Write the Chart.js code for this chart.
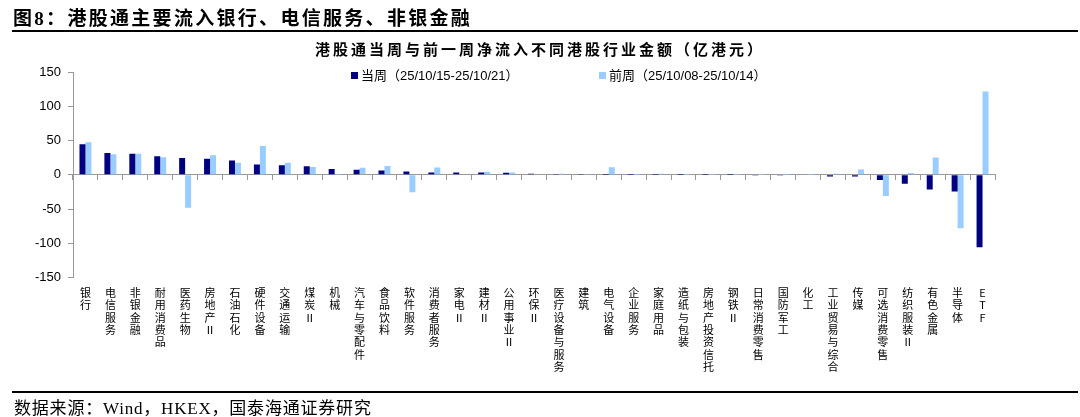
<!DOCTYPE html>
<html>
<head>
<meta charset="utf-8">
<script src="https://cdn.jsdelivr.net/npm/chart.js@4.4.1/dist/chart.umd.min.js"></script>
<style>
html,body{margin:0;padding:0;background:#fff;width:1080px;height:417px;overflow:hidden;}
#wrap{position:relative;width:1080px;height:417px;}
#c{position:absolute;left:0;top:0;}
.t{position:absolute;white-space:nowrap;color:#000;}
.sq{display:inline-block;width:7px;height:7px;margin-right:3px;vertical-align:1px;}
</style>
</head>
<body>
<div id="wrap">
<canvas id="c" width="1080" height="417"></canvas>
<div class="t" style="left:13px;top:3px;font:bold 19px 'Liberation Serif','Noto Sans CJK SC';letter-spacing:2.3px;">图8：港股通主要流入银行、电信服务、非银金融</div>
<div style="position:absolute;left:12px;top:30px;width:1066px;height:2px;background:#000;"></div>
<div class="t" id="ctitle" style="left:0;width:1080px;text-align:center;top:38px;font:bold 15px 'Noto Sans CJK SC';letter-spacing:3px;">港股通当周与前一周净流入不同港股行业金额（亿港元）</div>
<div class="t" id="leg1" style="left:351px;top:65px;font:13px 'Liberation Sans','Noto Sans CJK SC';"></div>
<div class="t" id="leg2" style="left:599px;top:65px;font:13px 'Liberation Sans','Noto Sans CJK SC';"></div>
<div style="position:absolute;left:12px;top:391px;width:1066px;height:2px;background:#000;"></div>
<div class="t" style="left:14px;top:394px;font:17px 'Liberation Serif','Noto Sans CJK SC';letter-spacing:0.8px;">数据来源：Wind，HKEX，国泰海通证券研究</div>
</div>
<script>
const categories = ['银行','电信服务','非银金融','耐用消费品','医药生物','房地产Ⅱ','石油石化','硬件设备','交通运输','煤炭Ⅱ','机械','汽车与零配件','食品饮料','软件服务','消费者服务','家电Ⅱ','建材Ⅱ','公用事业Ⅱ','环保Ⅱ','医疗设备与服务','建筑','电气设备','企业服务','家庭用品','造纸与包装','房地产投资信托','钢铁Ⅱ','日常消费零售','国防军工','化工','工业贸易与综合','传媒','可选消费零售','纺织服装Ⅱ','有色金属','半导体','ETF'];
const currentWeek = [44.7,32,30.6,27,24.7,23.3,20.9,15,14,12.6,8.7,7.3,6.3,4.9,3.6,3.5,3.4,3.1,1.5,0.5,0.5,0.3,0.3,0.2,0.1,0.1,0.1,-0.1,-0.1,-0.6,-2.5,-2.4,-7.6,-13.1,-21.5,-24.3,-105.7];
const previousWeek = [47.5,30,30.6,25.7,-48,28.6,17.5,42.2,17.5,11.6,0.3,10.2,13,-25.5,10.9,0,4.4,3.4,1,1.5,0.4,11.2,0.3,1.5,0.2,0.2,0.3,0.2,0.1,0.3,1.5,7.9,-31,2.6,25.2,-78,121.7];
const yTicks = [-150,-100,-50,0,50,100,150];
const seriesNames = ['当周（25/10/15-25/10/21）','前周（25/10/08-25/10/14）'];
const seriesColors = ['#000080','#99CCFF'];

document.getElementById('leg1').innerHTML = '<span class="sq" style="background:'+seriesColors[0]+'"></span>'+seriesNames[0];
document.getElementById('leg2').innerHTML = '<span class="sq" style="background:'+seriesColors[1]+'"></span>'+seriesNames[1];

const ctx = document.getElementById('c').getContext('2d');
new Chart(ctx, {
  type: 'bar',
  data: {
    labels: categories,
    datasets: [
      {label: seriesNames[0], data: currentWeek, backgroundColor: seriesColors[0], borderWidth: 0, barPercentage: 1, categoryPercentage: 0.48, xAxisID: 'x', yAxisID: 'y'},
      {label: seriesNames[1], data: previousWeek, backgroundColor: seriesColors[1], borderWidth: 0, barPercentage: 1, categoryPercentage: 0.48, xAxisID: 'x', yAxisID: 'y'}
    ]
  },
  options: {
    responsive: false,
    animation: false,
    layout: {padding: {left: 0, right: 85, top: 72, bottom: 0}},
    plugins: {legend: {display: false}, title: {display: false}, tooltip: {enabled: false}},
    scales: {
      y: {
        type: 'linear',
        min: yTicks[0], max: yTicks[yTicks.length - 1],
        ticks: {stepSize: yTicks[1] - yTicks[0], color: '#000', padding: 7, font: {family: 'Liberation Sans', size: 13}},
        grid: {display: true, drawOnChartArea: false, drawTicks: true, tickLength: 5, color: '#999'},
        border: {display: true, color: '#999'},
        afterFit(s) { s.width = 73; }
      },
      x: {
        type: 'category',
        position: {y: 0},
        offset: true,
        grid: {offset: true, drawOnChartArea: false, drawTicks: true, tickLength: 5, color: '#999'},
        border: {display: true, color: '#999'},
        ticks: {display: false}
      },
      x2: {
        type: 'category',
        position: 'bottom',
        offset: true,
        grid: {display: false, drawTicks: false},
        border: {display: false},
        ticks: {
          autoSkip: false, maxRotation: 0, minRotation: 0, padding: 9, color: '#000',
          font: {family: 'Noto Sans CJK SC', size: 11, lineHeight: 1.12},
          callback(v, i) { return categories[i].split(''); }
        },
        afterFit(s) { s.height = 139.3; }
      }
    }
  }
});
</script>
</body>
</html>
